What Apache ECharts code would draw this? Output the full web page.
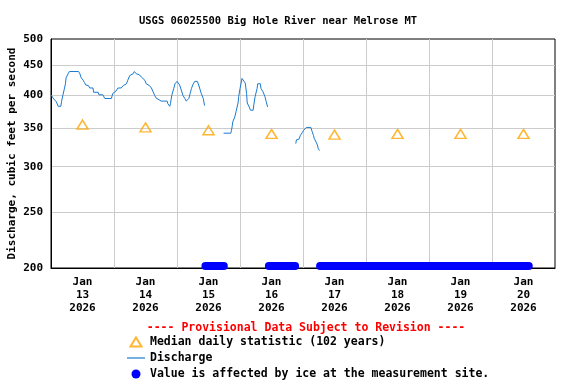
<!DOCTYPE html>
<html>
<head>
<meta charset="utf-8">
<script src="https://cdn.jsdelivr.net/npm/echarts@6/dist/echarts.min.js"></script>
<style>html,body{margin:0;padding:0;background:#fff}#c{width:576px;height:384px}</style>
</head>
<body>
<div id="c"></div>
<script>
// ---- data ----
const titleText = 'USGS 06025500 Big Hole River near Melrose MT';
const provisionalText = '---- Provisional Data Subject to Revision ----';
const yAxisName = 'Discharge, cubic feet per second';
const yTickValues = [200, 250, 300, 350, 400, 450, 500];
const yGridValues = [250, 300, 350, 400, 450];
const xGridTimes = ['2026-01-14 00:00','2026-01-15 00:00','2026-01-16 00:00','2026-01-17 00:00','2026-01-18 00:00','2026-01-19 00:00','2026-01-20 00:00'];
const xLabelTimes = ['2026-01-13 12:00','2026-01-14 12:00','2026-01-15 12:00','2026-01-16 12:00','2026-01-17 12:00','2026-01-18 12:00','2026-01-19 12:00','2026-01-20 12:00'];
const xLabelTexts = ['Jan\n13\n2026','Jan\n14\n2026','Jan\n15\n2026','Jan\n16\n2026','Jan\n17\n2026','Jan\n18\n2026','Jan\n19\n2026','Jan\n20\n2026'];

const medianTimes = xLabelTimes;
const medianValues = [355, 351, 347, 342, 341, 342, 342, 342];

const dischargeTimes = [
 '2026-01-13 00:00','2026-01-13 00:45','2026-01-13 01:30','2026-01-13 02:00','2026-01-13 02:45','2026-01-13 03:45','2026-01-13 04:00','2026-01-13 04:30','2026-01-13 05:00','2026-01-13 05:30','2026-01-13 05:45','2026-01-13 06:30','2026-01-13 07:00','2026-01-13 10:30','2026-01-13 11:00','2026-01-13 11:30','2026-01-13 12:15','2026-01-13 12:45','2026-01-13 13:15','2026-01-13 14:15','2026-01-13 14:45','2026-01-13 16:00','2026-01-13 16:15','2026-01-13 18:00','2026-01-13 18:15','2026-01-13 19:45','2026-01-13 20:30','2026-01-13 23:00','2026-01-13 23:30',
 '2026-01-14 00:15','2026-01-14 00:45','2026-01-14 01:30','2026-01-14 02:45','2026-01-14 03:30','2026-01-14 04:45','2026-01-14 05:15','2026-01-14 06:00','2026-01-14 06:30','2026-01-14 07:15','2026-01-14 07:45','2026-01-14 08:30','2026-01-14 09:45','2026-01-14 10:30','2026-01-14 11:45','2026-01-14 12:15','2026-01-14 13:30','2026-01-14 14:15','2026-01-14 14:45','2026-01-14 15:30','2026-01-14 16:00','2026-01-14 16:45','2026-01-14 18:00','2026-01-14 20:15','2026-01-14 20:30','2026-01-14 21:15','2026-01-14 21:30','2026-01-14 22:00','2026-01-14 22:45','2026-01-14 23:15',
 '2026-01-15 00:00','2026-01-15 00:45','2026-01-15 01:00','2026-01-15 01:45','2026-01-15 02:15','2026-01-15 03:00','2026-01-15 03:30','2026-01-15 04:15','2026-01-15 04:30','2026-01-15 05:00','2026-01-15 05:30','2026-01-15 06:00','2026-01-15 06:45','2026-01-15 07:45','2026-01-15 08:15','2026-01-15 08:45','2026-01-15 09:15','2026-01-15 10:00','2026-01-15 10:30',
 '2026-01-15 14:00',
 '2026-01-15 17:45','2026-01-15 20:30','2026-01-15 20:45','2026-01-15 21:00','2026-01-15 21:15','2026-01-15 22:00','2026-01-15 22:30','2026-01-15 23:15','2026-01-15 23:30',
 '2026-01-16 00:00','2026-01-16 00:30','2026-01-16 00:45','2026-01-16 01:30','2026-01-16 02:00','2026-01-16 02:30','2026-01-16 02:45','2026-01-16 03:30','2026-01-16 04:00','2026-01-16 05:00','2026-01-16 05:15','2026-01-16 05:45','2026-01-16 06:30','2026-01-16 06:45','2026-01-16 07:45','2026-01-16 08:00','2026-01-16 08:45','2026-01-16 09:30','2026-01-16 10:00','2026-01-16 10:30',
 '2026-01-16 16:00',
 '2026-01-16 21:15','2026-01-16 21:30','2026-01-16 22:30','2026-01-16 23:00','2026-01-16 23:45','2026-01-17 00:15','2026-01-17 01:15','2026-01-17 03:00','2026-01-17 03:30','2026-01-17 04:00','2026-01-17 04:15','2026-01-17 05:00','2026-01-17 05:30','2026-01-17 05:45','2026-01-17 06:15'
];
const dischargeValues = [
 400,395,392,389,382,382,389,399,408,418,428,435,439,439,435,428,424,420,416,415,411,411,404,404,400,400,394,394,402,
 404,406,411,411,415,418,424,432,433,435,439,435,433,429,424,418,415,411,406,399,395,393,390,390,386,382,386,399,410,418,
 422,422,416,406,399,394,390,389,394,402,410,416,422,422,416,413,402,394,383,
 '-',
 343,343,347,352,359,366,374,387,397,
 410,421,427,427,419,402,387,381,376,376,384,397,410,418,418,410,405,397,389,381,
 '-',
 329,334,335,340,344,347,351,351,345,340,336,331,327,323,320
];

const iceStart = ['2026-01-15 10:50','2026-01-16 11:00','2026-01-17 06:30'];
const iceEnd   = ['2026-01-15 17:50','2026-01-16 21:00','2026-01-20 14:00'];
const iceValue = 201.6;
const xMinTime = '2026-01-13 00:00';
const xMaxTime = '2026-01-21 00:00';

// ---- build ----
const toMs = s => { const [d, h] = s.split(' '); const [Y, M, D] = d.split('-').map(Number); const [hh, mm] = h.split(':').map(Number); return Date.UTC(Y, M - 1, D, hh, mm); };
const discharge = dischargeTimes.map((t, i) => [toMs(t), dischargeValues[i]]);
const median = medianTimes.map((t, i) => [toMs(t), medianValues[i]]);
const ice = [];
iceStart.forEach((s, i) => {
  if (i > 0) ice.push([toMs(s) - 60000, '-']);
  ice.push([toMs(s), iceValue]);
  ice.push([toMs(iceEnd[i]), iceValue]);
});
const labelMs = xLabelTimes.map(toMs);

const FONT = 'DejaVu Sans Mono';
const LINE_COLOR = '#1a7ad0';
const chart = echarts.init(document.getElementById('c'), null, {renderer: 'canvas'});
chart.setOption({
  animation: false,
  backgroundColor: '#fff',
  title: [
    {text: titleText, left: 273, top: 11, textAlign: 'center',
     textStyle: {fontFamily: FONT, fontWeight: 'bold', fontSize: 10.5, color: '#000'}},
    {text: provisionalText, left: 301, top: 317, textAlign: 'center',
     textStyle: {fontFamily: FONT, fontWeight: 'bold', fontSize: 11.5, color: '#ff0000'}}
  ],
  grid: {left: 51, right: 21, top: 39, bottom: 116, show: true, borderColor: '#000', borderWidth: 1,
         backgroundColor: 'transparent', outerBoundsMode: 'none', containLabel: false},
  legend: {
    orient: 'vertical', left: 122, top: 330, height: 120, itemWidth: 18, itemHeight: 9, itemGap: 2,
    symbolKeepAspect: true,
    textStyle: {fontFamily: FONT, fontWeight: 'bold', fontSize: 11.5, color: '#000', lineHeight: 14},
    data: [
      {name: 'Median daily statistic (102 years)', icon: 'path://M5.5,0L11,9L0,9Z'},
      {name: 'Discharge', icon: 'path://M0,0L18,0L18,1.2L0,1.2Z', itemStyle: {color: LINE_COLOR}},
      {name: 'Value is affected by ice at the measurement site.', icon: 'circle', itemStyle: {color: '#0000ff'}}
    ]
  },
  xAxis: {
    type: 'value', min: toMs(xMinTime), max: toMs(xMaxTime),
    axisLine: {show: true, lineStyle: {color: '#000', width: 1}},
    axisTick: {show: false, customValues: xGridTimes.map(toMs)},
    splitLine: {show: true, lineStyle: {color: '#cccccc', width: 1}},
    axisLabel: {
      customValues: labelMs, margin: 8, lineHeight: 13,
      fontFamily: FONT, fontWeight: 'bold', fontSize: 11, color: '#000', align: 'center',
      formatter: function (v) {
        let best = 0;
        labelMs.forEach((m, i) => { if (Math.abs(m - v) < Math.abs(labelMs[best] - v)) best = i; });
        return xLabelTexts[best];
      }
    }
  },
  yAxis: {
    type: 'log', min: 200, max: 500,
    name: yAxisName, nameLocation: 'middle', nameGap: 39, nameRotate: 90, nameMoveOverlap: false,
    nameTextStyle: {fontFamily: FONT, fontWeight: 'bold', fontSize: 11, color: '#000', verticalAlign: 'middle', align: 'center'},
    axisLine: {show: true, lineStyle: {color: '#000', width: 1}},
    axisTick: {show: false, customValues: yGridValues},
    splitLine: {show: true, lineStyle: {color: '#cccccc', width: 1}},
    axisLabel: {customValues: yTickValues, margin: 8, fontFamily: FONT, fontWeight: 'bold', fontSize: 11, color: '#000'}
  },
  series: [
    {name: 'Median daily statistic (102 years)', type: 'scatter', data: median,
     symbol: 'triangle', symbolSize: [11, 9],
     itemStyle: {color: 'rgba(0,0,0,0)', borderColor: '#ffa500', borderWidth: 1.5}, z: 3},
    {name: 'Discharge', type: 'line', data: discharge, symbol: 'none', connectNulls: false,
     lineStyle: {color: LINE_COLOR, width: 1}, itemStyle: {color: LINE_COLOR}, z: 4},
    {name: 'Value is affected by ice at the measurement site.', type: 'line', data: ice, symbol: 'none',
     clip: false, connectNulls: false,
     lineStyle: {color: '#0000ff', width: 8, cap: 'round'}, itemStyle: {color: '#0000ff'}, z: 5}
  ]
});
</script>
</body>
</html>
